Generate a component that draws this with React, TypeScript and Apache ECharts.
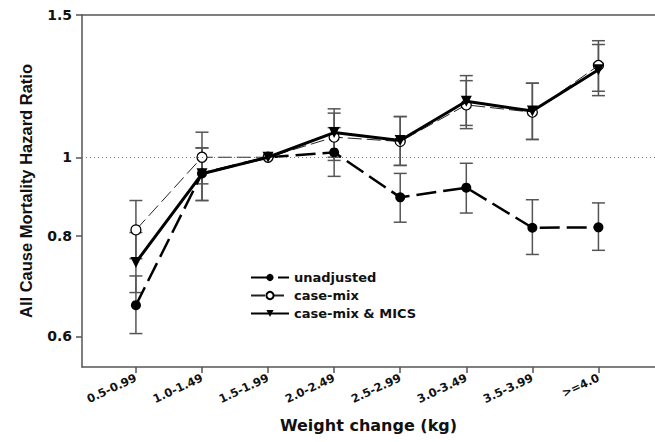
import React, { useEffect, useRef } from "react";
import * as echarts from "echarts";

const categories = ["0.5-0.99", "1.0-1.49", "1.5-1.99", "2.0-2.49", "2.5-2.99", "3.0-3.49", "3.5-3.99", ">=4.0"];
const yTicks = [0.6, 0.8, 1, 1.5];

const unadjusted = [0.656, 0.955, 1.0, 1.014, 0.892, 0.917, 0.818, 0.819];
const unadjustedLow = [0.605, 0.884, null, 0.947, 0.831, 0.853, 0.758, 0.767];
const unadjustedHigh = [0.713, 1.027, null, 1.088, 0.955, 0.983, 0.886, 0.878];

const caseMix = [0.813, 1.0, 1.0, 1.059, 1.046, 1.161, 1.137, 1.299];
const caseMixLow = [0.749, 0.927, null, 0.991, 0.977, 1.085, 1.052, 1.207];
const caseMixHigh = [0.884, 1.074, null, 1.134, 1.123, 1.244, 1.235, 1.394];

const mics = [0.741, 0.954, 1.0, 1.073, 1.049, 1.173, 1.141, 1.283];
const micsLow = [0.68, 0.884, null, 1.0, 0.977, 1.095, 1.052, 1.192];
const micsHigh = [0.807, 1.027, null, 1.148, 1.123, 1.262, 1.235, 1.379];

const ln = Math.log;
const AXIS = "#555";
const FONT = "DejaVu Sans";

function errData(low: (number | null)[], high: (number | null)[]) {
  const out: number[][] = [];
  low.forEach((l, i) => {
    const h = high[i];
    if (l != null && h != null) out.push([i, ln(l), ln(h)]);
  });
  return out;
}

function errSeries(name: string, low: (number | null)[], high: (number | null)[]) {
  return {
    name,
    type: "custom",
    z: 2,
    silent: true,
    data: errData(low, high),
    encode: { x: 0, y: [1, 2] },
    renderItem: (params: any, api: any) => {
      const x = api.value(0);
      const p1 = api.coord([x, api.value(1)]);
      const p2 = api.coord([x, api.value(2)]);
      const w = 6.5;
      const style = { stroke: "#555", lineWidth: 1.5, fill: null };
      return {
        type: "group",
        children: [
          { type: "line", shape: { x1: p1[0], y1: p1[1], x2: p2[0], y2: p2[1] }, style },
          { type: "line", shape: { x1: p1[0] - w, y1: p1[1], x2: p1[0] + w, y2: p1[1] }, style },
          { type: "line", shape: { x1: p2[0] - w, y1: p2[1], x2: p2[0] + w, y2: p2[1] }, style },
        ],
      };
    },
  };
}

const toPts = (arr: number[]) => arr.map((v, i) => [i, ln(v)]);

export default function App() {
  const ref = useRef<HTMLDivElement>(null);
  useEffect(() => {
    if (!ref.current) return;
    const chart = echarts.init(ref.current, null, { renderer: "svg" });
    const xMin = -0.816;
    const xMax = 7.856;
    const idx = categories.map((_, i) => i);
    chart.setOption({
      animation: false,
      backgroundColor: "#fff",
      grid: { left: 82, top: 15, width: 574, height: 352, containLabel: false },
      legend: {
        orient: "vertical",
        left: 245,
        top: 266,
        itemWidth: 38,
        itemHeight: 9,
        itemGap: 5,
        data: ["unadjusted", "case-mix", "case-mix & MICS"],
        textStyle: { fontFamily: FONT, fontWeight: "bold", fontSize: 13, color: "#111" },
      },
      xAxis: [
        {
          type: "value",
          min: xMin,
          max: xMax,
          position: "bottom",
          splitLine: { show: false },
          axisLine: { show: true, onZero: false, lineStyle: { color: AXIS, width: 1.5 } },
          axisTick: { show: true, customValues: idx, length: 6, lineStyle: { color: AXIS, width: 1.5 } },
          axisLabel: {
            customValues: idx,
            formatter: (v: number) => categories[Math.round(v)] ?? "",
            rotate: 25,
            margin: 10,
            fontFamily: FONT,
            fontWeight: "bold",
            fontSize: 11.5,
            color: "#111",
          },
          name: "Weight change (kg)",
          nameLocation: "middle",
          nameGap: 50,
          nameTextStyle: { fontFamily: FONT, fontWeight: "bold", fontSize: 16, color: "#111" },
        },
        {
          type: "value",
          min: xMin,
          max: xMax,
          position: "top",
          splitLine: { show: false },
          axisLine: { show: true, onZero: false, lineStyle: { color: AXIS, width: 1.5 } },
          axisTick: { show: false },
          axisLabel: { show: false },
        },
      ],
      yAxis: {
        type: "value",
        min: ln(0.55),
        max: ln(1.5),
        splitLine: { show: false },
        axisLine: { show: true, onZero: false, lineStyle: { color: AXIS, width: 1.5 } },
        axisTick: { show: true, customValues: yTicks.map(ln), length: 6, lineStyle: { color: AXIS, width: 1.5 } },
        axisLabel: {
          customValues: yTicks.map(ln),
          formatter: (v: number) => String(Math.round(Math.exp(v) * 100) / 100),
          margin: 10,
          fontFamily: FONT,
          fontWeight: "bold",
          fontSize: 14,
          color: "#111",
        },
        name: "All Cause Mortality Hazard Ratio",
        nameLocation: "middle",
        nameGap: 48,
        nameTextStyle: { fontFamily: "Liberation Sans", fontWeight: "bold", fontSize: 16.5, color: "#111" },
      },
      series: [
        errSeries("err-unadjusted", unadjustedLow, unadjustedHigh),
        errSeries("err-casemix", caseMixLow, caseMixHigh),
        errSeries("err-mics", micsLow, micsHigh),
        {
          name: "unadjusted",
          type: "line",
          z: 3,
          data: toPts(unadjusted),
          symbol: "circle",
          symbolSize: 10,
          itemStyle: { color: "#000" },
          lineStyle: { color: "#000", width: 2.5, type: [20, 7] },
          markLine: {
            silent: true,
            symbol: ["none", "none"],
            label: { show: false },
            lineStyle: { color: "#777", width: 1, type: [1, 3] },
            data: [{ yAxis: 0 }],
          },
        },
        {
          name: "case-mix",
          type: "line",
          z: 4,
          data: toPts(caseMix),
          symbol: "circle",
          symbolSize: 10,
          itemStyle: { color: "#fff", borderColor: "#000", borderWidth: 1.3 },
          lineStyle: { color: "#222", width: 1, type: [14, 5] },
        },
        {
          name: "case-mix & MICS",
          type: "line",
          z: 5,
          data: toPts(mics),
          symbol: "triangle",
          symbolRotate: 180,
          symbolSize: 11,
          itemStyle: { color: "#000" },
          lineStyle: { color: "#000", width: 3 },
        },
      ],
    });
    return () => chart.dispose();
  }, []);
  return <div ref={ref} style={{ position: "fixed", left: 0, top: 0, width: 655, height: 442 }} />;
}
